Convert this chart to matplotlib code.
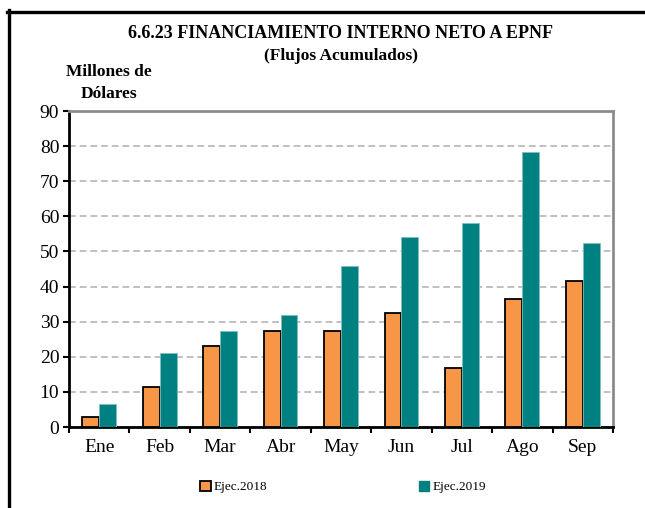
import matplotlib
matplotlib.use("Agg")
import matplotlib.pyplot as plt
from matplotlib.lines import Line2D
from matplotlib.patches import Patch
import numpy as np

months = ["Ene", "Feb", "Mar", "Abr", "May", "Jun", "Jul", "Ago", "Sep"]
ejec_2018 = [2.8, 11.4, 23.1, 27.2, 27.2, 32.4, 16.7, 36.5, 41.7]
ejec_2019 = [6.5, 21.0, 27.4, 32.0, 45.9, 54.0, 58.1, 78.4, 52.3]
series_labels = ["Ejec.2018", "Ejec.2019"]
y_ticks = list(range(0, 100, 10))

title = "6.6.23 FINANCIAMIENTO INTERNO NETO A EPNF"
subtitle = "(Flujos Acumulados)"
unit_label = "Millones de\nDólares"

ORANGE = "#F79646"
TEAL = "#008080"
W, H = 645, 508

plt.rcParams["font.family"] = ["Liberation Serif", "DejaVu Serif"]

fig = plt.figure(figsize=(W / 100, H / 100), dpi=100)
fig.patch.set_facecolor("white")

# outer frame: top and left edges
fig.add_artist(Line2D([7 / W, 1.0], [1 - 11.5 / H, 1 - 11.5 / H], color="black", lw=2.4,
                      transform=fig.transFigure))
fig.add_artist(Line2D([8.5 / W, 8.5 / W], [0, 1 - 10 / H], color="black", lw=2.4,
                      transform=fig.transFigure))

left, right, top, bottom = 69, 613, 111, 427
ax = fig.add_axes([left / W, 1 - bottom / H, (right - left) / W, (bottom - top) / H])

x = np.arange(len(months))
bw = 0.28
ax.bar(x - bw / 2, ejec_2018, width=bw, color=ORANGE, edgecolor="black", linewidth=1.3, zorder=3)
ax.bar(x + bw / 2, ejec_2019, width=bw, color=TEAL, edgecolor="#7FC0C0", linewidth=0.6, zorder=3)

ax.set_xlim(-0.5, len(months) - 0.5)
ax.set_ylim(0, 90)
ax.set_yticks(y_ticks)
ax.set_yticklabels([str(v) for v in y_ticks], fontsize=14)
ax.yaxis.grid(True, color="#C0C0C0", linestyle=(0, (3.5, 2)), linewidth=1.4, zorder=0)
ax.set_axisbelow(True)

# category labels centered, ticks on group boundaries
ax.set_xticks(np.arange(len(months) + 1) - 0.5)
ax.set_xticklabels([])
ax.set_xticks(x, minor=True)
ax.set_xticklabels(months, minor=True, fontsize=14)
ax.tick_params(axis="x", which="minor", length=0, pad=9)
ax.tick_params(axis="x", which="major", length=4, width=1.5, direction="out")
ax.tick_params(axis="y", length=4, width=1.5, direction="out", pad=3)

for s in ("left", "bottom"):
    ax.spines[s].set_color("black")
    ax.spines[s].set_linewidth(2)
for s in ("top", "right"):
    ax.spines[s].set_color("#8C8C8C")
    ax.spines[s].set_linewidth(2)

fig.text(341 / W, 1 - 34 / H, title, ha="center", va="center", fontsize=13, fontweight="bold")
fig.text(341 / W, 1 - 56 / H, subtitle, ha="center", va="center", fontsize=12.5, fontweight="bold")
fig.text(109 / W, 1 - 83 / H, unit_label, ha="center", va="center", fontsize=12.5,
         fontweight="bold", linespacing=1.45)

handles = [Patch(facecolor=ORANGE, edgecolor="black", linewidth=1.3),
           Patch(facecolor=TEAL, edgecolor=TEAL)]
fig.legend(handles, series_labels, loc="center", bbox_to_anchor=(343 / W, 1 - 487 / H),
           ncol=2, frameon=False, fontsize=9.5, handlelength=0.8, handleheight=0.8,
           handletextpad=0.2, columnspacing=11.5)

fig.savefig("out.png", dpi=100)
